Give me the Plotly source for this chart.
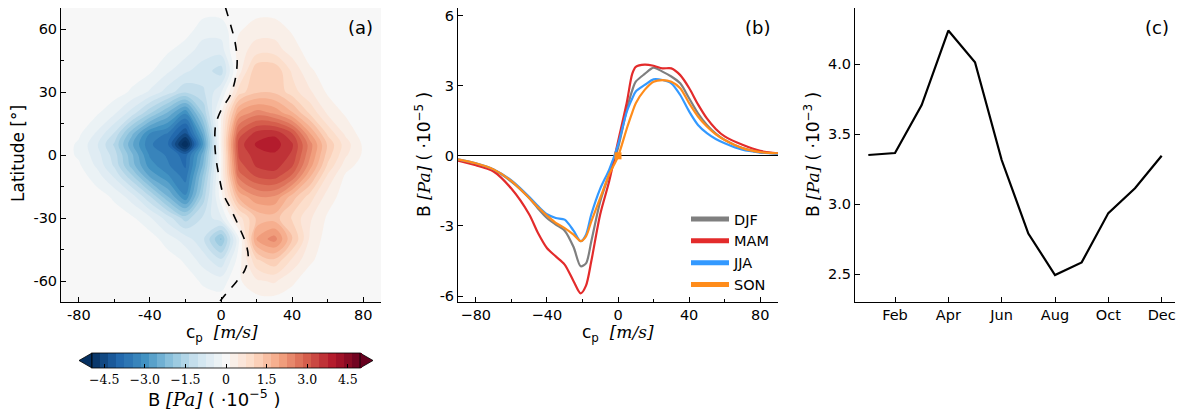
import plotly.graph_objects as go

# ---------------- data ----------------
# Panel (a): B field (x1e-5 Pa) on a coarse grid
cp_grid = [-90, -80, -70, -60, -50, -40, -30, -20, -10, 0, 10, 20, 30, 40, 50, 60, 70, 80, 90]
lat_grid = [-70, -60, -50, -40, -30, -20, -10, -5, 0, 5, 10, 20, 30, 40, 50, 60, 70]
B_field = [
    [0, 0, 0, 0, 0, 0, 0, 0, 0, 0, 0, 0, 0, 0, 0, 0, 0, 0, 0],                                        # -70
    [0, 0, 0, 0, 0, 0, 0, 0, -0.2, -0.3, 0.1, 0.4, 0.5, 0.2, 0, 0, 0, 0, 0],                           # -60
    [0, 0, 0, 0, 0, 0, 0, -0.2, -0.6, -1.0, 0, 1.0, 1.3, 0.7, 0.2, 0, 0, 0, 0],                        # -50
    [0, 0, 0, 0, 0, 0, -0.3, -0.6, -1.0, -2.0, -0.2, 2.0, 2.4, 1.4, 0.4, 0, 0, 0, 0],                  # -40
    [0, 0, 0, 0, -0.1, -0.4, -0.9, -1.5, -1.0, -0.5, 0.6, 1.4, 1.5, 1.0, 0.5, 0.1, 0, 0, 0],           # -30
    [0, 0, 0, -0.2, -0.6, -1.3, -2.2, -3.1, -1.5, 0, 1.7, 2.2, 2.2, 1.5, 0.9, 0.3, 0, 0, 0],           # -20
    [0, 0, -0.3, -0.8, -1.6, -2.6, -3.1, -3.6, -1.9, 0.1, 2.7, 3.2, 3.3, 2.8, 1.7, 0.7, 0.1, 0, 0],    # -10
    [0, -0.1, -0.5, -1.1, -2.1, -3.0, -3.4, -3.8, -2.2, 0.1, 3.0, 3.5, 3.6, 3.2, 2.1, 1.0, 0.3, 0, 0],  # -5
    [0, -0.2, -0.6, -1.2, -2.2, -3.2, -3.5, -3.9, -2.4, 0.1, 3.2, 3.6, 3.7, 3.4, 2.3, 1.2, 0.5, 0.1, 0],  # 0
    [0, -0.2, -0.7, -1.4, -2.5, -3.4, -3.7, -5.3, -2.8, 0.2, 3.3, 3.8, 3.9, 3.5, 2.4, 1.3, 0.6, 0.1, 0],  # 5
    [0, -0.1, -0.5, -1.1, -2.2, -3.2, -3.5, -4.4, -2.5, 0.2, 3.0, 3.6, 3.7, 3.2, 2.0, 1.0, 0.4, 0, 0],    # 10
    [0, 0, -0.1, -0.4, -0.9, -1.6, -2.3, -3.1, -1.6, 0.1, 2.0, 2.4, 2.2, 1.7, 1.0, 0.4, 0.1, 0, 0],       # 20
    [0, 0, 0, 0, -0.2, -0.5, -0.9, -1.3, -1.1, -0.5, 0.9, 1.3, 1.3, 0.9, 0.5, 0.1, 0, 0, 0],              # 30
    [0, 0, 0, 0, 0, -0.1, -0.4, -0.7, -0.9, -1.2, 0.3, 1.3, 1.3, 0.7, 0.2, 0, 0, 0, 0],                   # 40
    [0, 0, 0, 0, 0, 0, -0.1, -0.3, -0.6, -0.6, 0.3, 0.6, 0.6, 0.3, 0, 0, 0, 0, 0],                        # 50
    [0, 0, 0, 0, 0, 0, 0, 0, -0.3, -0.3, 0.1, 0.3, 0.3, 0.1, 0, 0, 0, 0, 0],                              # 60
    [0, 0, 0, 0, 0, 0, 0, 0, 0, 0, 0, 0, 0, 0, 0, 0, 0, 0, 0],                                            # 70
]
# dashed curve in panel (a)
wind_lat = [70.3, 60.5, 54.2, 44.7, 35.2, 28.1, 21.8, 14.7, 6.8, -1.1, -10.6, -18.5, -24.8,
            -34.3, -42.2, -48.5, -54.8, -60.3, -65.8, -69.8]
wind_u = [2.5, 5.9, 7.8, 9.1, 7.8, 5.0, 0.3, -2.9, -3.5, -2.9, -1.0, 1.2, 5.0,
          10.2, 14.0, 15.3, 13.4, 8.7, 3.1, -0.7]

# Panel (b): seasonal spectra (x1e-5 Pa)
cp_line = [-90, -80, -70, -60, -50, -45, -40, -35, -30, -25, -21, -18, -15, -10, -5, 0, 5, 8, 10,
           15, 20, 25, 30, 35, 40, 45, 50, 55, 60, 70, 80, 90]
B_DJF = [-0.17, -0.34, -0.6, -1.1, -1.8, -2.25, -2.66, -2.94, -3.2, -3.9, -4.72, -4.6, -3.65, -1.95, -0.8,
         0.33, 2.0, 2.8, 3.17, 3.5, 3.77, 3.6, 3.39, 3.1, 2.46, 1.82, 1.32, 0.95, 0.68, 0.33, 0.16, 0.1]
B_MAM = [-0.2, -0.4, -0.67, -1.4, -2.5, -3.3, -3.94, -4.3, -4.65, -5.36, -5.88, -5.55, -4.5, -2.5, -1.1,
         0.6, 2.3, 3.5, 3.8, 3.9, 3.85, 3.74, 3.74, 3.45, 2.9, 2.2, 1.6, 1.15, 0.83, 0.47, 0.21, 0.11]
B_JJA = [-0.15, -0.32, -0.58, -1.05, -1.75, -2.15, -2.5, -2.66, -2.73, -3.2, -3.65, -3.37, -2.5, -1.4, -0.6,
         0.47, 1.9, 2.45, 2.75, 3.03, 3.27, 3.24, 3.1, 2.6, 1.9, 1.32, 0.97, 0.72, 0.54, 0.26, 0.14, 0.08]
B_SON = [-0.15, -0.32, -0.58, -1.07, -1.8, -2.2, -2.55, -2.87, -3.09, -3.37, -3.65, -3.44, -2.8, -1.8, -0.8,
         -0.03, 1.18, 1.85, 2.25, 2.82, 3.17, 3.24, 3.17, 2.89, 2.25, 1.68, 1.25, 0.92, 0.68, 0.33, 0.16, 0.11]
son_mark_cp = [0]
son_mark_B = [0]

# Panel (c): monthly mean B (x1e-3 Pa)
month_num = [1, 2, 3, 4, 5, 6, 7, 8, 9, 10, 11, 12]
B_month = [3.35, 3.364, 3.707, 4.239, 4.012, 3.314, 2.789, 2.493, 2.583, 2.935, 3.113, 3.345]
month_tick_vals = [2, 4, 6, 8, 10, 12]
month_tick_text = ["Feb", "Apr", "Jun", "Aug", "Oct", "Dec"]

# ---------------- layout helpers ----------------
# the page body has an 8 px margin, so the figure is drawn 8 px in from the window corner
OFF = 8
W, H = 1192 - OFF, 412 - OFF
def px(x):
    return (x - OFF) / W
def py(y):
    return min(1.0, 1 - (y - OFF) / H)

FONT = "DejaVu Sans"
SERIF = "DejaVu Serif"
TICK = dict(family=FONT, size=14.5, color="black")

rdbu_r = [
    [0.0, "#053061"], [0.1, "#2166ac"], [0.2, "#4393c3"], [0.3, "#92c5de"], [0.4, "#d1e5f0"],
    [0.5, "#f7f7f7"], [0.6, "#fddbc7"], [0.7, "#f4a582"], [0.8, "#d6604d"], [0.9, "#b2182b"],
    [1.0, "#67001f"],
]

fig = go.Figure()

# ---- panel (a) ----
fig.add_trace(go.Contour(
    x=cp_grid, y=lat_grid, z=B_field,
    colorscale=rdbu_r, zmin=-4.95, zmax=4.95,
    autocontour=False,
    contours=dict(start=-4.95, end=4.95, size=0.3, coloring="fill", showlines=False),
    line=dict(width=0),
    xaxis="x", yaxis="y",
    colorbar=dict(
        orientation="h", x=px(226), xanchor="center", y=py(353), yanchor="top",
        len=268 / W, lenmode="fraction", thickness=15, thicknessmode="pixels",
        xpad=0, ypad=0, outlinewidth=0.8, outlinecolor="black",
        tickvals=[-4.5, -3.0, -1.5, 0, 1.5, 3.0, 4.5],
        ticktext=["\u22124.5", "\u22123.0", "\u22121.5", "0", "1.5", "3.0", "4.5"],
        ticks="inside", ticklen=4, tickcolor="black",
        tickfont=dict(family=SERIF, size=12.5, color="black"),
    ),
    hoverinfo="skip", showlegend=False,
))
fig.add_trace(go.Scatter(
    x=wind_u, y=wind_lat, mode="lines", line=dict(color="black", width=1.6, dash="dash", shape="spline"),
    xaxis="x", yaxis="y", showlegend=False, hoverinfo="skip",
))

# ---- panel (b) ----
series = [("DJF", B_DJF, "#7f7f7f"), ("MAM", B_MAM, "#e32b2b"),
          ("JJA", B_JJA, "#3399ff"), ("SON", B_SON, "#ff8c1a")]
for name, vals, col in series:
    fig.add_trace(go.Scatter(
        x=cp_line, y=vals, mode="lines", name=name,
        line=dict(color=col, width=2.2, shape="spline", smoothing=0.8),
        xaxis="x2", yaxis="y2", showlegend=False,
    ))
fig.add_trace(go.Scatter(
    x=son_mark_cp, y=son_mark_B, mode="markers",
    marker=dict(symbol="square", size=7, color="#ff8c1a"),
    xaxis="x2", yaxis="y2", showlegend=False,
))
for name, vals, col in series:
    fig.add_trace(go.Scatter(
        x=[None], y=[None], mode="lines", name=name,
        line=dict(color=col, width=5), xaxis="x2", yaxis="y2", showlegend=True,
    ))

# ---- panel (c) ----
fig.add_trace(go.Scatter(
    x=month_num, y=B_month, mode="lines", line=dict(color="black", width=2.2),
    xaxis="x3", yaxis="y3", showlegend=False,
))

ax_common = dict(showgrid=False, showline=True, linecolor="black", linewidth=1,
                 ticks="inside", ticklen=5, tickcolor="black", tickfont=TICK, mirror=False,
                 ticklabeloverflow="allow")

dom_y = [py(302), py(7)]
fig.update_layout(
    width=W, height=H, template="none",
    margin=dict(l=0, r=0, t=0, b=0),
    paper_bgcolor="white", plot_bgcolor="white",
    font=dict(family=FONT, size=14, color="black"),
    xaxis=dict(domain=[px(61), px(381)], range=[-90, 90], anchor="y", zeroline=False,
               tickvals=[-80, -40, 0, 40, 80], ticktext=["-80", "-40", "0", "40", "80"],
               minor=dict(tickvals=[-60, -20, 20, 60], ticks="inside", ticklen=3, tickcolor="black"),
               **ax_common),
    yaxis=dict(domain=dom_y, range=[-70, 70], anchor="x", zeroline=False,
               tickvals=[-60, -30, 0, 30, 60], ticktext=["-60", "-30", "0", "30", "60"],
               minor=dict(tickvals=[-45, -15, 15, 45], ticks="inside", ticklen=3, tickcolor="black"),
               **ax_common),
    xaxis2=dict(domain=[px(458), px(778)], range=[-90, 90], anchor="y2", zeroline=False,
                tickvals=[-80, -40, 0, 40, 80],
                ticktext=["\u221280", "\u221240", "0", "40", "80"],
                minor=dict(tickvals=[-60, -20, 20, 60], ticks="inside", ticklen=3, tickcolor="black"),
                **ax_common),
    yaxis2=dict(domain=dom_y, range=[-6.25, 6.32], anchor="x2",
                tickvals=[-6, -3, 0, 3, 6], ticktext=["-6", "-3", "0", "3", "6"],
                zeroline=True, zerolinecolor="black", zerolinewidth=1, **ax_common),
    xaxis3=dict(domain=[px(855), px(1175)], range=[0.5, 12.5], anchor="y3", zeroline=False,
                tickvals=month_tick_vals, ticktext=month_tick_text, **ax_common),
    yaxis3=dict(domain=dom_y, range=[2.3, 4.4], anchor="x3", zeroline=False,
                tickvals=[2.5, 3.0, 3.5, 4.0], ticktext=["2.5", "3.0", "3.5", "4.0"], **ax_common),
    legend=dict(x=px(686), y=py(203), xanchor="left", yanchor="top",
                font=dict(family=FONT, size=14.5, color="black"),
                bgcolor="rgba(0,0,0,0)", tracegroupgap=0, itemwidth=38),
)

# colorbar extension triangles
cb_l, cb_r, cb_t, cb_b = 92, 360, 353, 368
fig.add_shape(type="path", xref="paper", yref="paper",
              path=f"M {px(cb_l)},{py(cb_t)} L {px(79)},{py((cb_t + cb_b) / 2)} L {px(cb_l)},{py(cb_b)} Z",
              fillcolor="#053061", line=dict(color="black", width=0.8))
fig.add_shape(type="path", xref="paper", yref="paper",
              path=f"M {px(cb_r)},{py(cb_t)} L {px(373)},{py((cb_t + cb_b) / 2)} L {px(cb_r)},{py(cb_b)} Z",
              fillcolor="#67001f", line=dict(color="black", width=0.8))

math = f"font-family:{SERIF};font-style:italic"
cp_title = f"c<sub>p</sub>  <span style='{math}'>[m/s]</span>"
b5 = f"B <span style='{math}'>[Pa]</span> ( ·10<sup>−5</sup> )"
b3 = f"B <span style='{math}'>[Pa]</span> ( ·10<sup>−3</sup> )"
annos = [
    dict(text="(a)", x=px(360), y=py(27), font=dict(size=18)),
    dict(text="(b)", x=px(757), y=py(27), font=dict(size=18)),
    dict(text="(c)", x=px(1157), y=py(27), font=dict(size=18)),
    dict(text="Latitude [°]", x=px(18), y=py(154), textangle=-90, font=dict(size=17)),
    dict(text=cp_title, x=px(222), y=py(333), font=dict(size=17)),
    dict(text=cp_title, x=px(618), y=py(333), font=dict(size=17)),
    dict(text=b5, x=px(423), y=py(155), textangle=-90, font=dict(size=17)),
    dict(text=b3, x=px(812), y=py(155), textangle=-90, font=dict(size=17)),
    dict(text=b5, x=px(214), y=py(398), font=dict(size=18)),
]
for a in annos:
    fig.add_annotation(xref="paper", yref="paper", showarrow=False, xanchor="center", yanchor="middle",
                       **a)

fig.write_html("out.html")
